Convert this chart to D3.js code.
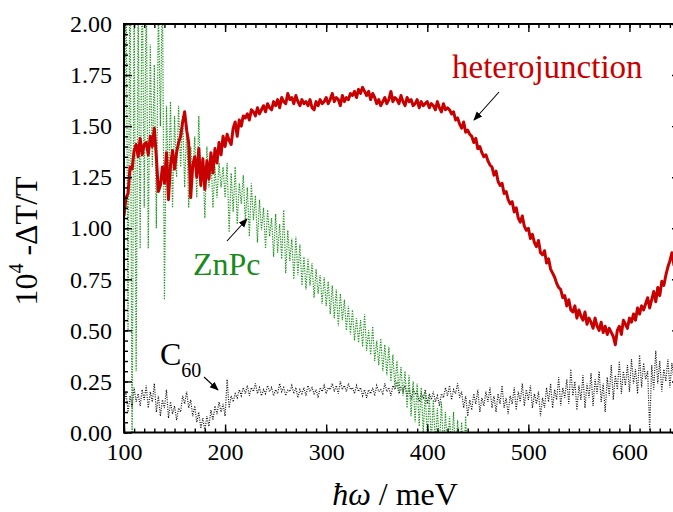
<!DOCTYPE html>
<html>
<head>
<meta charset="utf-8">
<script src="https://cdn.jsdelivr.net/npm/d3@7"></script>
</head>
<body style="margin:0;background:#fff">
<svg id="chart" width="673" height="512" style="display:block"></svg>
<script>
// Photo-induced absorption spectra, -ΔT/T (×10^-4) versus photon energy (meV)
const energyStart = 100;   // meV, first sample of every series
const energyStep = 2;      // meV between samples

// heterojunction (ZnPc/C60)
const heterojunction = [
  1.06, 1.15, 1.17, 1.30, 1.29, 1.38, 1.41, 1.35, 1.44, 1.36,
  1.41, 1.42, 1.36, 1.45, 1.40, 1.49, 1.35, 1.18, 1.21, 1.30,
  1.22, 1.37, 1.14, 1.31, 1.38, 1.29, 1.37, 1.42, 1.45, 1.52,
  1.57, 1.48, 1.42, 1.15, 1.31, 1.35, 1.25, 1.39, 1.21, 1.34,
  1.19, 1.33, 1.24, 1.37, 1.27, 1.39, 1.32, 1.42, 1.36, 1.45,
  1.40, 1.46, 1.43, 1.41, 1.49, 1.52, 1.45, 1.53, 1.50, 1.55,
  1.54, 1.56, 1.53, 1.58, 1.57, 1.55, 1.59, 1.56, 1.58, 1.60,
  1.57, 1.61, 1.59, 1.58, 1.62, 1.60, 1.63, 1.59, 1.64, 1.62,
  1.61, 1.66, 1.63, 1.64, 1.61, 1.65, 1.62, 1.60, 1.63, 1.61,
  1.62, 1.60, 1.63, 1.59, 1.58, 1.62, 1.60, 1.63, 1.61, 1.62,
  1.64, 1.61, 1.63, 1.66, 1.62, 1.64, 1.63, 1.60, 1.65, 1.62,
  1.64, 1.63, 1.66, 1.65, 1.67, 1.64, 1.68, 1.66, 1.69, 1.67,
  1.65, 1.67, 1.63, 1.66, 1.64, 1.61, 1.63, 1.60, 1.62, 1.64,
  1.61, 1.63, 1.67, 1.62, 1.64, 1.63, 1.61, 1.65, 1.62, 1.60,
  1.64, 1.62, 1.63, 1.60, 1.61, 1.63, 1.59, 1.62, 1.60, 1.61,
  1.62, 1.59, 1.61, 1.60, 1.58, 1.62, 1.59, 1.57, 1.61, 1.58,
  1.59, 1.58, 1.56, 1.57, 1.53, 1.54, 1.51, 1.49, 1.52, 1.47,
  1.48, 1.46, 1.45, 1.42, 1.44, 1.39, 1.40, 1.37, 1.35, 1.36,
  1.33, 1.31, 1.30, 1.26, 1.28, 1.23, 1.21, 1.22, 1.17, 1.18,
  1.14, 1.12, 1.13, 1.08, 1.10, 1.05, 1.03, 1.06, 1.01, 0.99,
  1.00, 0.95, 0.97, 0.93, 0.91, 0.94, 0.88, 0.87, 0.89, 0.83,
  0.85, 0.80, 0.78, 0.76, 0.73, 0.71, 0.70, 0.66, 0.67, 0.62,
  0.65, 0.60, 0.59, 0.62, 0.56, 0.60, 0.57, 0.55, 0.59, 0.53,
  0.56, 0.54, 0.51, 0.56, 0.52, 0.50, 0.54, 0.49, 0.52, 0.48,
  0.51, 0.49, 0.47, 0.43, 0.50, 0.52, 0.48, 0.55, 0.53, 0.51,
  0.56, 0.54, 0.58, 0.55, 0.61, 0.58, 0.62, 0.60, 0.63, 0.66,
  0.61, 0.65, 0.69, 0.64, 0.71, 0.67, 0.74, 0.72, 0.77, 0.81,
  0.84, 0.88, 0.82, 0.86, 0.84, 0.85
];

// ZnPc film alone
const znpc = [
  1.20, 2.30, 0.50, 2.40, -0.20, 2.20, 0.30, 2.10, 0.90, 2.30,
  1.10, 2.20, 0.90, 1.90, 1.30, 1.80, 1.00, 2.10, 1.50, 2.20,
  0.65, 1.60, 1.20, 1.62, 1.10, 1.55, 1.25, 1.60, 1.30, 1.55,
  1.20, 1.50, 1.10, 1.40, 1.25, 1.45, 1.15, 1.55, 1.20, 1.35,
  1.05, 1.40, 1.20, 1.35, 1.10, 1.30, 1.15, 1.32, 1.20, 1.30,
  1.15, 1.32, 0.98, 1.27, 1.08, 1.30, 1.02, 1.22, 1.12, 1.26,
  1.03, 1.20, 0.96, 1.22, 1.04, 1.16, 0.93, 1.14, 0.99, 1.10,
  0.90, 1.09, 0.96, 1.05, 0.86, 1.07, 0.88, 1.02, 0.85, 1.09,
  0.78, 0.99, 0.84, 0.95, 0.75, 0.96, 0.77, 0.92, 0.72, 0.86,
  0.70, 0.85, 0.72, 0.83, 0.66, 0.80, 0.68, 0.77, 0.63, 0.76,
  0.62, 0.74, 0.58, 0.72, 0.56, 0.70, 0.52, 0.68, 0.55, 0.65,
  0.50, 0.62, 0.48, 0.60, 0.45, 0.56, 0.44, 0.55, 0.42, 0.58,
  0.40, 0.50, 0.38, 0.52, 0.35, 0.45, 0.33, 0.46, 0.30, 0.43,
  0.28, 0.42, 0.25, 0.38, 0.22, 0.35, 0.20, 0.32, 0.18, 0.30,
  0.12, 0.28, 0.08, 0.25, 0.05, 0.24, 0.03, 0.22, 0.00, 0.20,
  -0.03, 0.18, -0.05, 0.16, -0.06, 0.12, -0.08, 0.15, -0.08, 0.10,
  -0.10, 0.08, -0.08, 0.10, -0.12, 0.06, -0.10, 0.05, -0.15, 0.08, -0.20
];

// C60 film alone
const c60 = [
  0.14, 0.20, 0.10, 0.18, 0.12, 0.22, 0.15, 0.19, 0.13, 0.21,
  0.16, 0.23, 0.12, 0.20, 0.15, 0.24, 0.10, 0.18, 0.08, 0.16,
  0.12, 0.21, 0.07, 0.15, 0.09, 0.13, 0.06, 0.12, 0.10, 0.18,
  0.14, 0.20, 0.12, 0.16, 0.08, 0.13, 0.05, 0.10, 0.02, 0.07,
  0.01, 0.08, 0.03, 0.11, 0.06, 0.13, 0.09, 0.15, 0.10, 0.14,
  0.08, 0.26, 0.12, 0.18, 0.15, 0.19, 0.17, 0.21, 0.18, 0.22,
  0.19, 0.23, 0.18, 0.22, 0.20, 0.24, 0.19, 0.22, 0.18, 0.21,
  0.19, 0.23, 0.20, 0.22, 0.18, 0.21, 0.19, 0.24, 0.20, 0.22,
  0.18, 0.21, 0.20, 0.23, 0.19, 0.22, 0.17, 0.21, 0.19, 0.22,
  0.18, 0.23, 0.20, 0.22, 0.19, 0.21, 0.17, 0.22, 0.20, 0.23,
  0.19, 0.22, 0.21, 0.24, 0.20, 0.23, 0.19, 0.25, 0.21, 0.23,
  0.20, 0.24, 0.21, 0.22, 0.19, 0.23, 0.20, 0.22, 0.18, 0.21,
  0.17, 0.21, 0.19, 0.22, 0.18, 0.23, 0.20, 0.21, 0.19, 0.24,
  0.20, 0.22, 0.18, 0.23, 0.21, 0.24, 0.19, 0.22, 0.20, 0.23,
  0.18, 0.22, 0.16, 0.21, 0.19, 0.20, 0.15, 0.19, 0.17, 0.21,
  0.14, 0.19, 0.16, 0.20, 0.15, 0.18, 0.13, 0.19, 0.17, 0.22,
  0.18, 0.23, 0.16, 0.21, 0.19, 0.24, 0.17, 0.20, 0.12, 0.18,
  0.08, 0.16, 0.11, 0.19, 0.14, 0.21, 0.10, 0.17, 0.13, 0.20,
  0.15, 0.22, 0.12, 0.18, 0.10, 0.19, 0.14, 0.23, 0.12, 0.17,
  0.09, 0.18, 0.14, 0.22, 0.11, 0.20, 0.15, 0.24, 0.13, 0.21,
  0.16, 0.23, 0.12, 0.19, 0.14, 0.20, 0.08, 0.17, 0.12, 0.22,
  0.15, 0.24, 0.12, 0.21, 0.16, 0.27, 0.13, 0.22, 0.17, 0.26,
  0.14, 0.31, 0.18, 0.25, 0.11, 0.23, 0.16, 0.28, 0.12, 0.24,
  0.17, 0.29, 0.13, 0.26, 0.19, 0.30, 0.15, 0.24, 0.10, 0.27,
  0.18, 0.33, 0.16, 0.28, 0.21, 0.35, 0.19, 0.30, 0.23, 0.33,
  0.20, 0.36, 0.24, 0.31, 0.19, 0.38, 0.22, 0.34, 0.26, 0.30,
  0.01, 0.33, 0.21, 0.40, 0.24, 0.35, 0.20, 0.31, 0.25, 0.36,
  0.22, 0.34, 0.26, 0.30, 0.24
];

// Axis ticks
const xMajorTicks = [100, 200, 300, 400, 500, 600];
const yMajorTicks = [0, 0.25, 0.5, 0.75, 1.0, 1.25, 1.5, 1.75, 2.0];
const xMinorTicks = d3.range(100, 651, 10);
const yMinorTicks = d3.range(0, 2.001, 0.05);

const svg = d3.select("#chart");
const plot = { left: 124, top: 24, right: 680, bottom: 432.5 };

const x = d3.scaleLinear().domain([100, 650]).range([plot.left, plot.right]);
const y = d3.scaleLinear().domain([0, 2]).range([plot.bottom, plot.top]);

const toPoints = vals => vals.map((v, i) => ({ e: energyStart + i * energyStep, v }));

const defs = svg.append("defs");
defs.append("clipPath").attr("id", "plotClip")
  .append("rect")
  .attr("x", plot.left).attr("y", plot.top)
  .attr("width", plot.right - plot.left).attr("height", plot.bottom - plot.top);

defs.append("marker")
  .attr("id", "arrowHead")
  .attr("viewBox", "0 0 10 10")
  .attr("refX", 9).attr("refY", 5)
  .attr("markerWidth", 9).attr("markerHeight", 9)
  .attr("markerUnits", "userSpaceOnUse")
  .attr("orient", "auto")
  .append("path").attr("d", "M0,1 L10,5 L0,9 Z").attr("fill", "#000");

const line = d3.line().x(d => x(d.e)).y(d => y(d.v));

const curves = svg.append("g").attr("clip-path", "url(#plotClip)");

curves.append("path")
  .datum(toPoints(c60))
  .attr("d", line)
  .attr("fill", "none")
  .attr("stroke", "#111")
  .attr("stroke-width", 1.2)
  .attr("stroke-dasharray", "1,1.4");

curves.append("path")
  .datum(toPoints(znpc))
  .attr("d", line)
  .attr("fill", "none")
  .attr("stroke", "#1f961f")
  .attr("stroke-width", 1.2)
  .attr("stroke-dasharray", "1.3,1.3");

curves.append("path")
  .datum(toPoints(heterojunction))
  .attr("d", line)
  .attr("fill", "none")
  .attr("stroke", "#c80000")
  .attr("stroke-width", 3)
  .attr("stroke-linejoin", "round");

// Axes: ticks pointing inward on all four sides
function styleAxis(g) {
  g.select(".domain").remove();
  g.selectAll(".tick line").attr("stroke", "#000").attr("stroke-width", 1.4);
  g.selectAll("text")
    .attr("font-size", 24)
    .attr("fill", "#000");
}

svg.append("g").attr("transform", `translate(0,${plot.bottom})`)
  .call(d3.axisBottom(x).tickValues(xMinorTicks).tickSize(-4).tickFormat(""))
  .call(styleAxis);
svg.append("g").attr("transform", `translate(0,${plot.bottom})`)
  .call(d3.axisBottom(x).tickValues(xMajorTicks).tickSize(-8).tickPadding(10).tickFormat(d3.format("d")))
  .call(styleAxis);

svg.append("g").attr("transform", `translate(0,${plot.top})`)
  .call(d3.axisTop(x).tickValues(xMinorTicks).tickSize(-4).tickFormat(""))
  .call(styleAxis);
svg.append("g").attr("transform", `translate(0,${plot.top})`)
  .call(d3.axisTop(x).tickValues(xMajorTicks).tickSize(-8).tickFormat(""))
  .call(styleAxis);

svg.append("g").attr("transform", `translate(${plot.left},0)`)
  .call(d3.axisLeft(y).tickValues(yMinorTicks).tickSize(-4).tickFormat(""))
  .call(styleAxis);
svg.append("g").attr("transform", `translate(${plot.left},0)`)
  .call(d3.axisLeft(y).tickValues(yMajorTicks).tickSize(-8).tickPadding(12).tickFormat(d3.format(".2f")))
  .call(styleAxis);

svg.append("g").attr("transform", `translate(${plot.right},0)`)
  .call(d3.axisRight(y).tickValues(yMinorTicks).tickSize(-4).tickFormat(""))
  .call(styleAxis);
svg.append("g").attr("transform", `translate(${plot.right},0)`)
  .call(d3.axisRight(y).tickValues(yMajorTicks).tickSize(-8).tickFormat(""))
  .call(styleAxis);

// Frame
svg.append("rect")
  .attr("x", plot.left).attr("y", plot.top)
  .attr("width", plot.right - plot.left).attr("height", plot.bottom - plot.top)
  .attr("fill", "none").attr("stroke", "#000").attr("stroke-width", 2);

// Axis titles
const xTitle = svg.append("text")
  .attr("x", 395).attr("y", 505)
  .attr("text-anchor", "middle")
  .attr("font-size", 32);
xTitle.append("tspan").style("font-style", "italic").text("ħω");
xTitle.append("tspan").text(" / meV");

const yTitle = svg.append("text")
  .attr("transform", "translate(37,241) rotate(-90)")
  .attr("text-anchor", "middle")
  .attr("font-size", 32);
yTitle.append("tspan").text("10");
yTitle.append("tspan").attr("font-size", 20).attr("dy", -14).text("4");
yTitle.append("tspan").attr("dy", 14).text(" -ΔT/T");

// Curve labels with arrows
svg.append("text")
  .attr("x", 452).attr("y", 78)
  .attr("font-size", 33).attr("fill", "#c80000")
  .text("heterojunction");
svg.append("line")
  .attr("x1", 499).attr("y1", 92).attr("x2", 474).attr("y2", 120)
  .attr("stroke", "#000").attr("stroke-width", 1.1)
  .attr("marker-end", "url(#arrowHead)");

svg.append("text")
  .attr("x", 193).attr("y", 275)
  .attr("font-size", 32).attr("fill", "#1a8a1a")
  .text("ZnPc");
svg.append("line")
  .attr("x1", 227).attr("y1", 241).attr("x2", 247).attr("y2", 219)
  .attr("stroke", "#000").attr("stroke-width", 1.1)
  .attr("marker-end", "url(#arrowHead)");

const c60Label = svg.append("text")
  .attr("x", 160).attr("y", 365)
  .attr("font-size", 32).attr("fill", "#000");
c60Label.append("tspan").text("C");
c60Label.append("tspan").attr("font-size", 20).attr("dy", 12).text("60");
svg.append("line")
  .attr("x1", 204).attr("y1", 377).attr("x2", 218).attr("y2", 390)
  .attr("stroke", "#000").attr("stroke-width", 1.1)
  .attr("marker-end", "url(#arrowHead)");

// Times-style typeface for every label
svg.selectAll("text").style("font-family", '"Liberation Serif", serif');
</script>
</body>
</html>
